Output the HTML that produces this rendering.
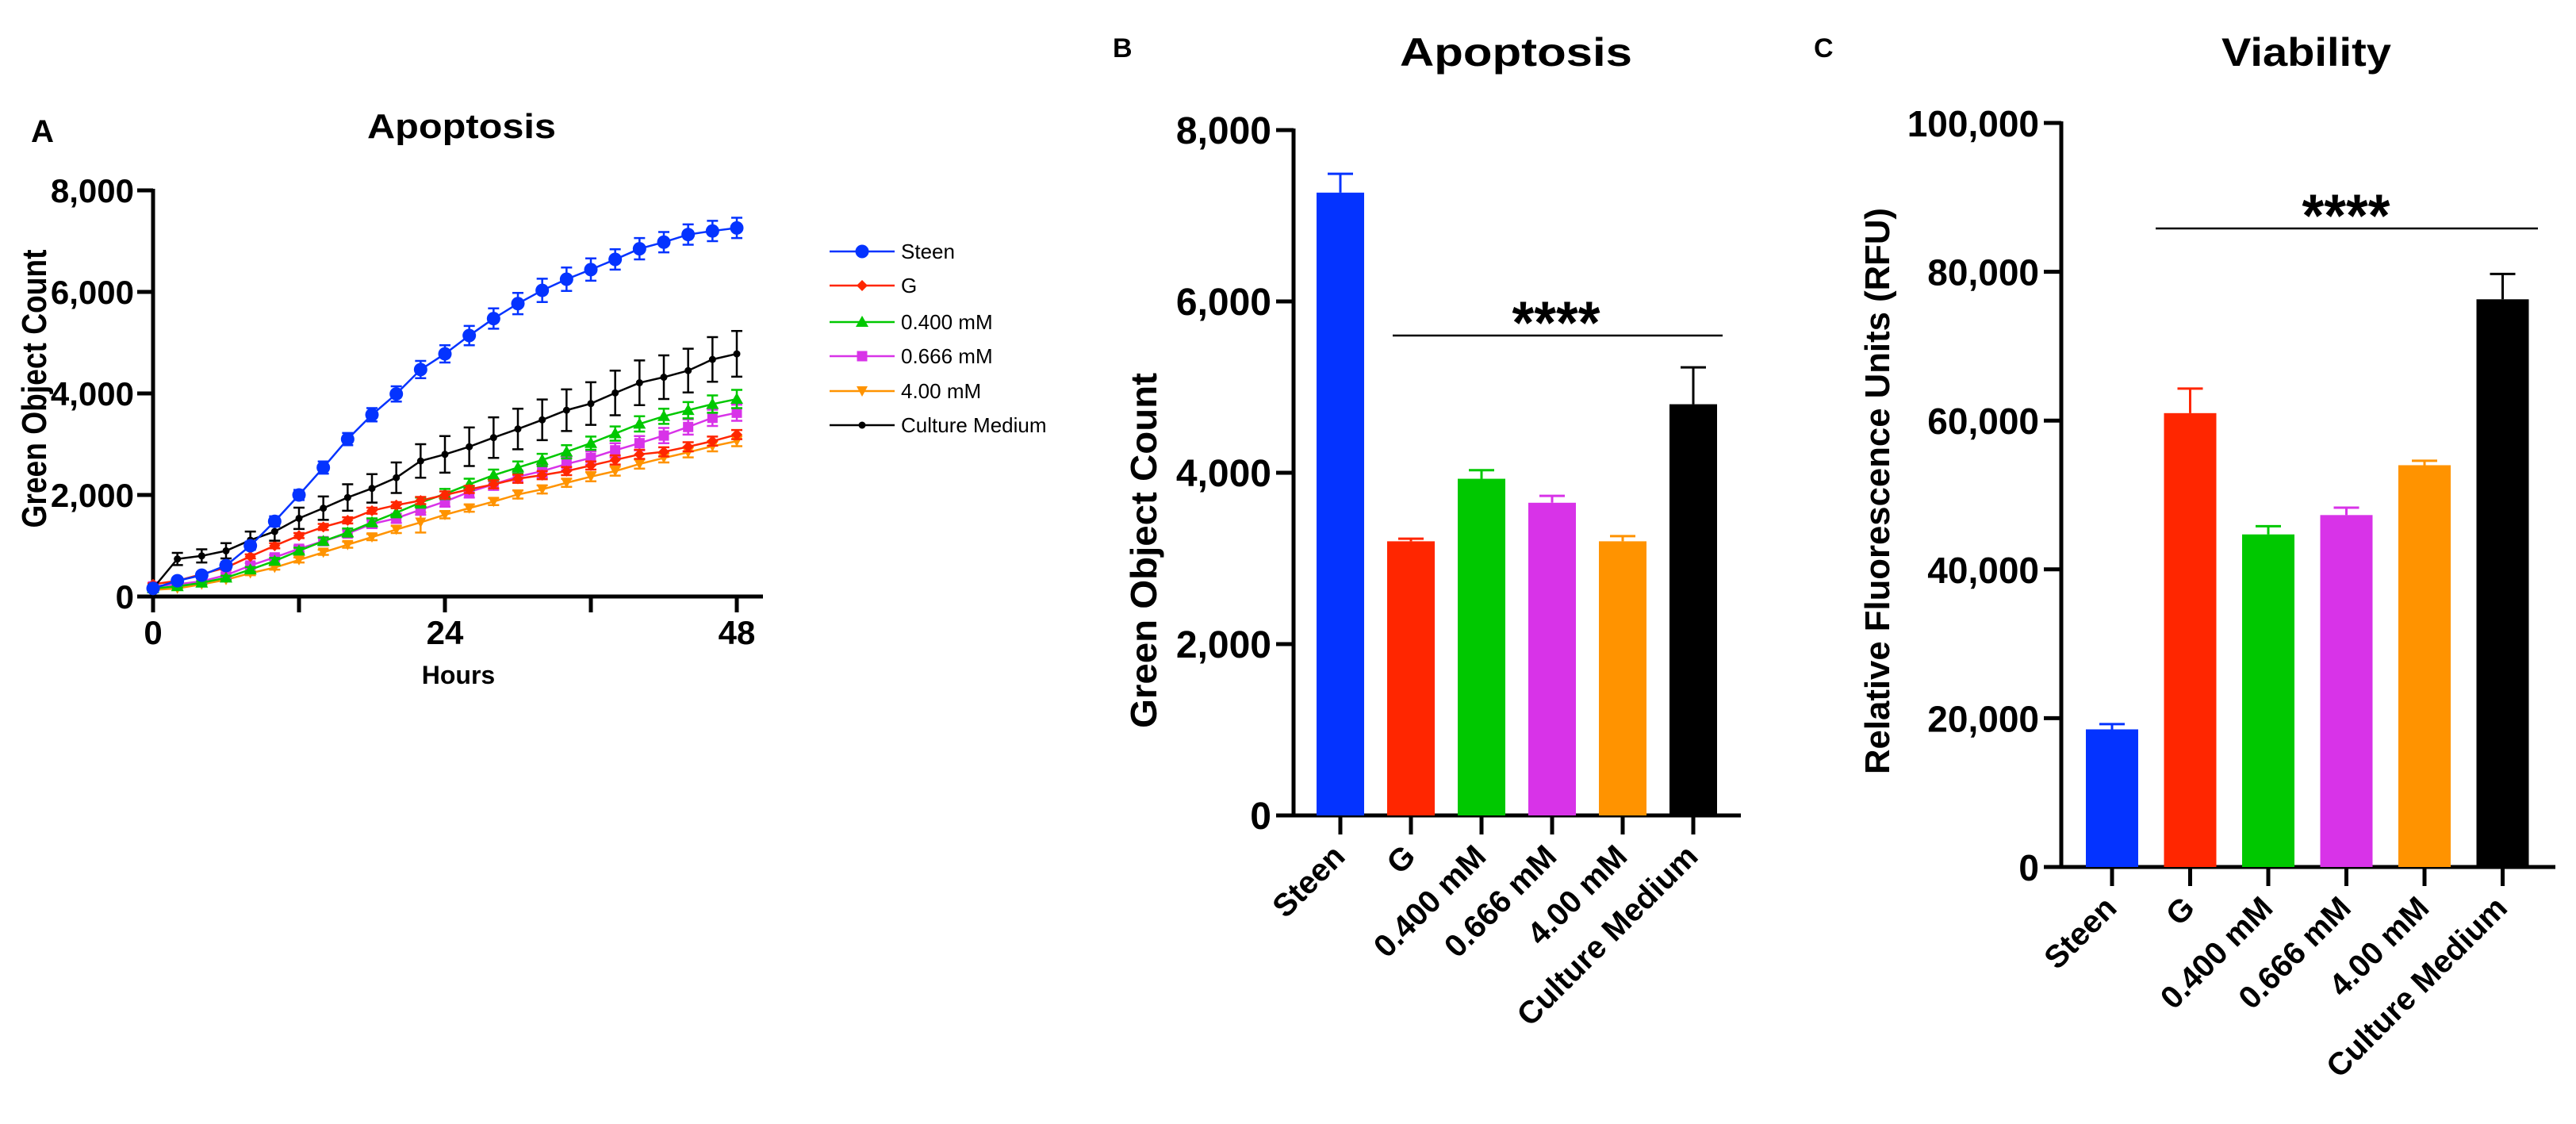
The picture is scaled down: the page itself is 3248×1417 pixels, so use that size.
<!DOCTYPE html>
<html><head><meta charset="utf-8">
<style>
html,body{margin:0;padding:0;background:#fff;}
svg{display:block;}
text{font-family:"Liberation Sans",sans-serif;font-weight:bold;fill:#000;}
.nar{font-family:"Liberation Sans Narrow","Liberation Sans",sans-serif;font-stretch:condensed;}
</style></head>
<body>
<svg id="fig" width="3248" height="1417" viewBox="0 0 3248 1417" xmlns="http://www.w3.org/2000/svg">
<rect width="3248" height="1417" fill="#fff"/>
<!-- Panel A static text -->
<text x="39" y="179" font-size="40" textLength="29" lengthAdjust="spacingAndGlyphs">A</text>
<text x="463" y="174" font-size="44" textLength="238" lengthAdjust="spacingAndGlyphs">Apoptosis</text>
<text class="nar" font-size="44" text-anchor="middle" transform="translate(58,490) rotate(-90)" textLength="351" lengthAdjust="spacingAndGlyphs">Green Object Count</text>
<text class="nar" x="578" y="862" font-size="32" text-anchor="middle">Hours</text>
<g id="gA"></g>
<g id="legend"></g>
<!-- Panel B -->
<text x="1403" y="72" font-size="34">B</text>
<text x="1765" y="83" font-size="50" textLength="293" lengthAdjust="spacingAndGlyphs">Apoptosis</text>
<text class="nar" font-size="46" text-anchor="middle" transform="translate(1458,694) rotate(-90)" textLength="448" lengthAdjust="spacingAndGlyphs">Green Object Count</text>
<g id="gB"></g>
<!-- Panel C -->
<text x="2287" y="72" font-size="34">C</text>
<text x="2801" y="83" font-size="50" textLength="214" lengthAdjust="spacingAndGlyphs">Viability</text>
<text class="nar" font-size="44" text-anchor="middle" transform="translate(2382,619) rotate(-90)" textLength="714" lengthAdjust="spacingAndGlyphs">Relative Fluorescence Units (RFU)</text>
<g id="gC"></g>
</svg>
<script>
// ---------- Panel A data ----------
const hours = [0,2,4,6,8,10,12,14,16,18,20,22,24,26,28,30,32,34,36,38,40,42,44,46,48];
const seriesNames = ["Steen","G","0.400 mM","0.666 mM","4.00 mM","Culture Medium"];
const steenVals = [160,310,420,610,1000,1480,2000,2540,3100,3580,3990,4470,4780,5140,5475,5770,6030,6250,6440,6640,6850,6980,7130,7200,7260];
const steenErr = [30,50,60,70,80,100,100,120,120,130,150,170,170,190,200,210,230,230,220,200,210,200,200,200,200];
const gVals = [240,310,440,570,790,1000,1200,1370,1500,1690,1800,1890,2000,2110,2210,2320,2390,2470,2580,2690,2800,2850,2950,3060,3190];
const gErr = [20,30,30,40,40,50,50,60,60,60,60,70,70,70,80,80,80,80,80,90,90,90,90,90,90];
const m400Vals = [160,200,270,370,530,700,900,1090,1260,1460,1650,1850,2020,2210,2390,2540,2690,2850,3020,3210,3400,3550,3670,3790,3890];
const m400Err = [20,30,30,40,50,60,60,70,80,80,90,100,100,110,110,120,120,130,130,140,150,150,160,170,180];
const m666Vals = [200,240,300,420,610,770,940,1090,1240,1430,1540,1710,1870,2060,2210,2360,2470,2610,2730,2880,3020,3170,3340,3520,3620];
const m666Err = [20,30,30,40,50,50,60,70,70,80,90,100,100,110,110,120,120,130,130,140,140,150,150,160,160];
const m4Vals = [130,160,240,330,460,570,720,870,1020,1170,1320,1460,1610,1740,1870,2010,2110,2240,2360,2470,2610,2730,2840,2960,3060];
const m4Err = [20,30,30,30,40,40,50,50,60,60,70,200,70,70,70,80,80,80,90,90,90,90,100,100,100];
const cmVals = [160,740,800,900,1110,1280,1540,1740,1950,2130,2340,2670,2800,2950,3130,3300,3480,3670,3800,4010,4210,4320,4450,4670,4780];
const cmErr = [60,120,130,150,170,180,210,230,260,280,300,330,360,380,400,400,400,410,420,440,440,430,430,440,450];
const yTicksA = [0,2000,4000,6000,8000];
const yTickLabelsA = ["0","2,000","4,000","6,000","8,000"];
const xTicksA = [0,12,24,36,48];
const xTickLabelsA = ["0","","24","","48"];

// ---------- Panel B data ----------
const categories = ["Steen","G","0.400 mM","0.666 mM","4.00 mM","Culture Medium"];
const apopMeans = [7270,3200,3930,3650,3200,4800];
const apopErr = [220,30,100,80,60,430];
const yTicksB = [0,2000,4000,6000,8000];
const yTickLabelsB = ["0","2,000","4,000","6,000","8,000"];

// ---------- Panel C data ----------
const viabMeans = [18500,61000,44700,47300,54000,76300];
const viabErr = [700,3300,1100,1000,600,3400];
const yTicksC = [0,20000,40000,60000,80000,100000];
const yTickLabelsC = ["0","20,000","40,000","60,000","80,000","100,000"];

const colors = ["#0433FF","#FF2600","#00C800","#D833E8","#FF9300","#000000"];
const NS = "http://www.w3.org/2000/svg";
function mk(tag, attrs, parent){
  const e = document.createElementNS(NS, tag);
  for (const k in attrs) e.setAttribute(k, attrs[k]);
  parent.appendChild(e);
  return e;
}

// ---------- Panel A ----------
(function(){
  const g = document.getElementById("gA");
  const x0 = 193, x1 = 929, yb = 752, yt = 240;
  const xA = h => x0 + (h - 0) / 48 * (x1 - x0);
  const yA = v => yb - v / 8000 * (yb - yt);
  const ax = mk("path", {d:`M${x0},${yt-2} V${yb} H962`, stroke:"#000","stroke-width":5, fill:"none"}, g);
  
  
  yTicksA.forEach((v,i)=>{
    const t = mk("line", {x1:x0-20, x2:x0, y1:yA(v), y2:yA(v), stroke:"#000","stroke-width":5}, g);
    
    
    const l = mk("text", {x:x0-24, y:yA(v)+15, "font-size":42, "text-anchor":"end", class:"nar"}, g);
    
    
    l.textContent = yTickLabelsA[i];
  });
  xTicksA.forEach((h,i)=>{
    const t = mk("line", {x1:xA(h), x2:xA(h), y1:yb, y2:yb+20, stroke:"#000","stroke-width":5}, g);
    
    
    if (xTickLabelsA[i]) {
      const l = mk("text", {x:xA(h), y:812, "font-size":42, "text-anchor":"middle", class:"nar"}, g);
      
      
      l.textContent = xTickLabelsA[i];
    }
  });
  const all = [[steenVals,steenErr],[gVals,gErr],[m400Vals,m400Err],[m666Vals,m666Err],[m4Vals,m4Err],[cmVals,cmErr]];
  const order = [4,3,2,1,5,0];
  order.forEach(si=>{
    const [vals, errs] = all[si];
    const c = colors[si];
    const sg = mk("g", {}, g);
    
    
    const line = mk("polyline", {points: hours.map((h,i)=>`${xA(h)},${yA(vals[i])}`).join(" "), fill:"none", stroke:c, "stroke-width":2.5}, sg);
    
    
    hours.forEach((h,i)=>{
      const x = xA(h), yh = yA(vals[i]+errs[i]), yl = yA(vals[i]-errs[i]);
      const eb = mk("path", {d:`M${x-7},${yh} H${x+7} M${x},${yh} V${yl} M${x-7},${yl} H${x+7}`, stroke:c, "stroke-width":2.5, fill:"none"}, sg);
      
      
      drawMarker(sg, si, x, yA(vals[i]), c);
    });
  });
  function drawMarker(p, si, x, y, c){
    let m;
    if (si===0) m = mk("circle", {cx:x, cy:y, r:8.5, fill:c}, p);
    else if (si===1) m = mk("path", {d:`M${x},${y-7} L${x+7},${y} L${x},${y+7} L${x-7},${y} Z`, fill:c}, p);
    else if (si===2) m = mk("path", {d:`M${x},${y-8} L${x+8},${y+6} L${x-8},${y+6} Z`, fill:c}, p);
    else if (si===3) m = mk("rect", {x:x-6.5, y:y-6.5, width:13, height:13, fill:c}, p);
    else if (si===4) m = mk("path", {d:`M${x-7},${y-6} L${x+7},${y-6} L${x},${y+7} Z`, fill:c}, p);
    else m = mk("circle", {cx:x, cy:y, r:4.5, fill:c}, p);
    
    
  }
  // legend
  const lg = document.getElementById("legend");
  const ly = [317,360,406,449,493,536];
  seriesNames.forEach((n,i)=>{
    const eg = mk("g", {}, lg);
    
    
    mk("line", {x1:1046, x2:1128, y1:ly[i], y2:ly[i], stroke:colors[i], "stroke-width":2.5}, eg);
    drawMarker(eg, i, 1087, ly[i], colors[i]);
    const t = mk("text", {x:1136, y:ly[i]+9, "font-size":26, style:"font-weight:normal"}, eg);
    
    
    t.textContent = n;
  });
})();

// ---------- Bar panels ----------
function barPanel(gid, cfg){
  const g = document.getElementById(gid);
  const yv = v => cfg.yb - v / cfg.ymax * (cfg.yb - cfg.yt);
  const ax = mk("path", {d:`M${cfg.ax},${cfg.yt-2} V${cfg.yb} H${cfg.xend}`, stroke:"#000","stroke-width":5, fill:"none"}, g);
  
  
  cfg.ticks.forEach((v,i)=>{
    const t = mk("line", {x1:cfg.ax-22, x2:cfg.ax, y1:yv(v), y2:yv(v), stroke:"#000","stroke-width":5}, g);
    
    
    const l = mk("text", {x:cfg.ax-28, y:yv(v)+17, "font-size":cfg.fs, "text-anchor":"end"}, g);
    
    
    l.textContent = cfg.tickLabels[i];
  });
  categories.forEach((cat,i)=>{
    const cx = cfg.c0 + i*cfg.step;
    const v = cfg.means[i], e = cfg.errs[i];
    const b = mk("rect", {x:cx-cfg.bw/2, y:yv(v), width:cfg.bw, height:cfg.yb-yv(v), fill:colors[i]}, g);
    
    
    const eb = mk("path", {d:`M${cx},${yv(v)} V${yv(v+e)} M${cx-16},${yv(v+e)} H${cx+16}`, stroke:colors[i], "stroke-width":3, fill:"none"}, g);
    
    
    const t = mk("line", {x1:cx, x2:cx, y1:cfg.yb, y2:cfg.yb+24, stroke:"#000","stroke-width":5}, g);
    
    
    const l = mk("text", {"font-size":40, "text-anchor":"end", transform:`translate(${cx+8},${cfg.yb+54}) rotate(-45)`}, g);
    
    
    l.textContent = cat;
  });
  const sl = mk("line", {x1:cfg.sx1, x2:cfg.sx2, y1:cfg.sy, y2:cfg.sy, stroke:"#000","stroke-width":2.5}, g);
  
  
  const st = mk("text", {x:cfg.starX, y:cfg.sy+10, "font-size":76, "text-anchor":"middle", textLength:111, lengthAdjust:"spacingAndGlyphs"}, g);
  
  
  st.textContent = "****";
}
barPanel("gB", {ax:1631, yb:1028, yt:164, ymax:8000, xend:2195, ticks:yTicksB, tickLabels:yTickLabelsB, fs:48,
  c0:1690, step:89, bw:60, means:apopMeans, errs:apopErr, sx1:1756, sx2:2172, sy:423, starX:1962});
barPanel("gC", {ax:2599, yb:1093, yt:155, ymax:100000, xend:3222, ticks:yTicksC, tickLabels:yTickLabelsC, fs:46,
  c0:2663, step:98.5, bw:66, means:viabMeans, errs:viabErr, sx1:2718, sx2:3200, sy:288, starX:2958});
</script>
</body></html>
